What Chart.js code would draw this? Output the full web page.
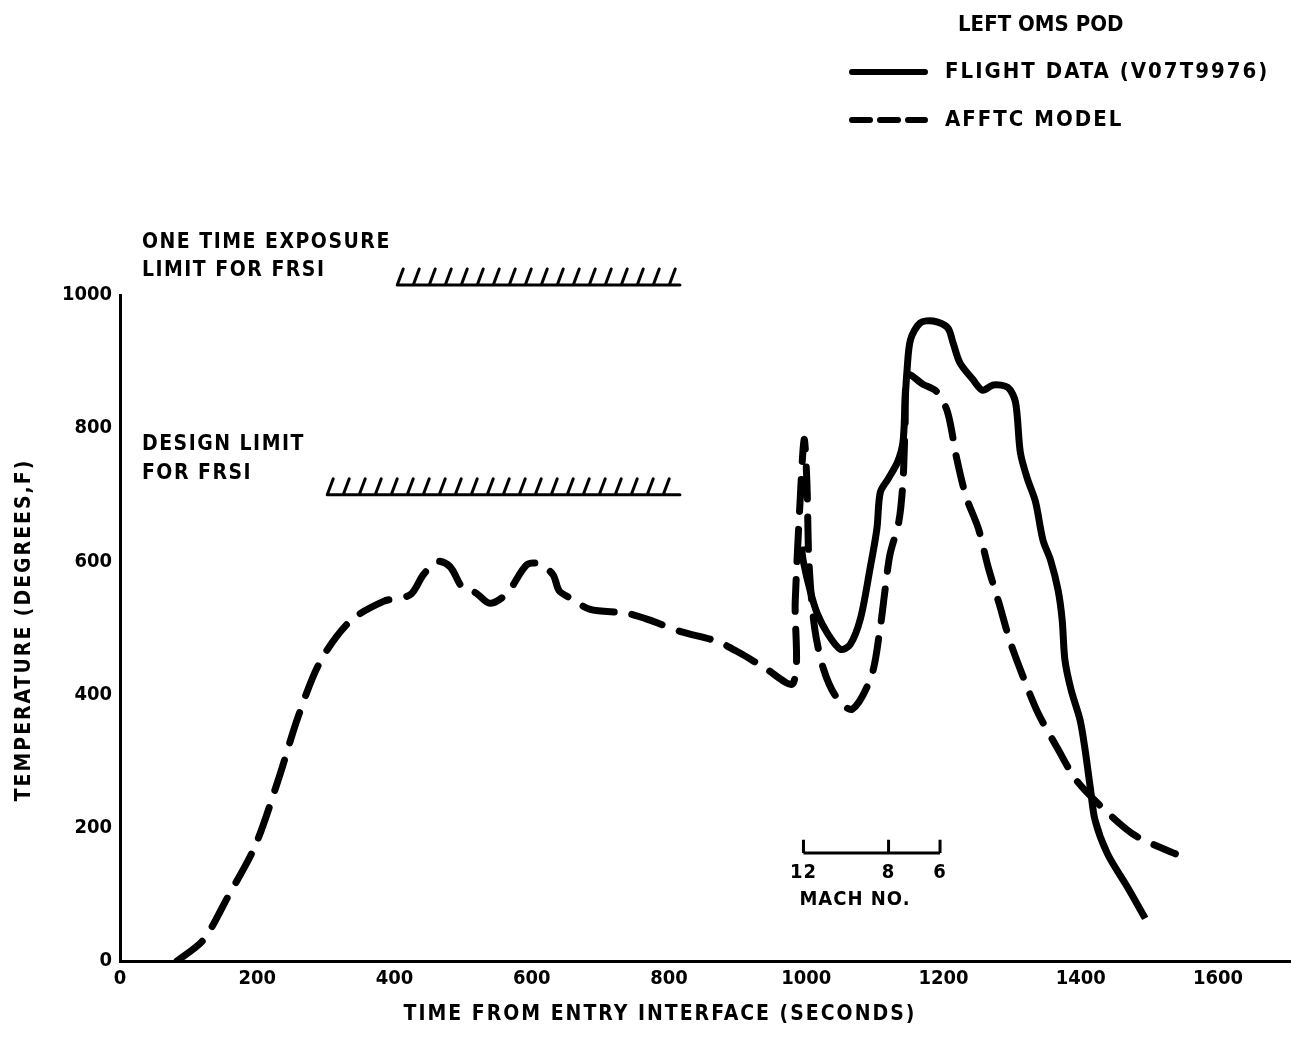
<!DOCTYPE html>
<html>
<head>
<meta charset="utf-8">
<script src="https://cdn.jsdelivr.net/npm/chart.js@4.4.1/dist/chart.umd.min.js"></script>
<style>
  html, body { margin: 0; padding: 0; background: #fff; }
  canvas { display: block; }
</style>
</head>
<body>
<canvas id="tempChart" width="1291" height="1050"></canvas>
<script>
// Flight data, left OMS pod (solid line)
const flightTime = [993, 996, 1006, 1016, 1031, 1050, 1064, 1079, 1093, 1103, 1108, 1120, 1133, 1141, 1144, 1147, 1152, 1166, 1185, 1206, 1214, 1224, 1243, 1257, 1273, 1294, 1305, 1312, 1322, 1334, 1345, 1356, 1367, 1373, 1377, 1386, 1399, 1406, 1414, 1421, 1439, 1468, 1494];
const flightTemp = [622, 599, 555, 522, 492, 468, 475, 514, 589, 649, 704, 725, 749, 779, 839, 888, 933, 958, 961, 951, 928, 898, 873, 857, 865, 861, 839, 764, 725, 690, 632, 602, 557, 512, 452, 407, 362, 320, 260, 211, 161, 111, 64];

// AFFTC model (dashed line)
const modelTime = [83, 121, 157, 197, 230, 260, 292, 335, 384, 423, 442, 462, 481, 500, 518, 539, 564, 593, 612, 631, 640, 656, 685, 739, 777, 816, 870, 904, 937, 981, 984, 991, 997, 1001, 1004, 1012, 1025, 1044, 1067, 1095, 1108, 1115, 1122, 1135, 1141, 1144, 1148, 1170, 1190, 1206, 1219, 1233, 1251, 1265, 1281, 1297, 1316, 1338, 1367, 1394, 1439, 1480, 1538];
const modelTemp = [0, 31, 96, 173, 270, 368, 450, 510, 540, 550, 580, 600, 592, 559, 553, 537, 552, 595, 596, 580, 556, 545, 528, 522, 510, 495, 480, 462, 442, 417, 540, 689, 783, 719, 599, 502, 439, 396, 378, 428, 502, 558, 610, 660, 720, 800, 880, 866, 855, 824, 756, 697, 649, 592, 537, 480, 427, 372, 318, 271, 223, 188, 161];

const xTicks = [0, 200, 400, 600, 800, 1000, 1200, 1400, 1600];
const yTicks = [0, 200, 400, 600, 800, 1000];

// FRSI temperature limits
const limitNames = [['ONE TIME EXPOSURE', 'LIMIT FOR FRSI'], ['DESIGN LIMIT', 'FOR FRSI']];
const limitTemps = [1015, 700];
const limitFrom = [404, 302];
const limitTo = [816, 816];

// Mach number scale under the curves
const machNumbers = [12, 8, 6];
const machTimes = [996, 1120, 1195];

const FONT = "'DejaVu Sans Condensed', 'Liberation Sans Narrow', 'DejaVu Sans', sans-serif";
Chart.defaults.font.family = FONT;
Chart.defaults.font.weight = 'bold';
Chart.defaults.color = '#000';

const toPoints = (xs, ys) => xs.map((x, i) => ({ x: x, y: ys[i] }));

// draws legend, limit hatches, mach scale and axis titles
const annotations = {
  id: 'annotations',
  afterDraw(chart) {
    const ctx = chart.ctx;
    const xs = chart.scales.x;
    const ys = chart.scales.y;
    ctx.save();
    ctx.fillStyle = '#000';
    ctx.strokeStyle = '#000';
    ctx.textBaseline = 'middle';
    ctx.textAlign = 'left';

    // legend
    ctx.font = 'bold 22px ' + FONT;
    ctx.letterSpacing = '0px';
    ctx.fillText('LEFT OMS POD', 958, 25);
    ctx.letterSpacing = '2px';
    const legendY = [72, 120];
    chart.data.datasets.forEach((ds, i) => {
      ctx.lineWidth = 6;
      ctx.lineCap = 'round';
      ctx.setLineDash(ds.borderDash && ds.borderDash.length ? [18, 10] : []);
      ctx.beginPath();
      ctx.moveTo(852, legendY[i]);
      ctx.lineTo(925, legendY[i]);
      ctx.stroke();
      ctx.setLineDash([]);
      ctx.fillText(ds.label, 945, legendY[i]);
    });

    // limits with hatching
    limitTemps.forEach((t, i) => {
      const x1 = xs.getPixelForValue(limitFrom[i]);
      const x2 = xs.getPixelForValue(limitTo[i]);
      const y = ys.getPixelForValue(t);
      ctx.lineWidth = 3;
      ctx.lineCap = 'round';
      ctx.beginPath();
      ctx.moveTo(x1, y);
      ctx.lineTo(x2, y);
      for (let x = x1; x <= x2 - 4; x += 16) {
        ctx.moveTo(x, y);
        ctx.lineTo(x + 6, y - 16);
      }
      ctx.stroke();
      const lx = xs.getPixelForValue(32);
      ctx.font = 'bold 21px ' + FONT;
      ctx.letterSpacing = '1.5px';
      const offs = i === 0 ? [-42, -14] : [-50, -21];
      limitNames[i].forEach((s, j) => ctx.fillText(s, lx, y + offs[j]));
    });

    // mach number scale
    const my = ys.getPixelForValue(162);
    const mTop = ys.getPixelForValue(182);
    ctx.lineWidth = 3;
    ctx.lineCap = 'butt';
    ctx.beginPath();
    ctx.moveTo(xs.getPixelForValue(machTimes[0]), my);
    ctx.lineTo(xs.getPixelForValue(machTimes[machTimes.length - 1]), my);
    machTimes.forEach(t => {
      const px = xs.getPixelForValue(t);
      ctx.moveTo(px, my);
      ctx.lineTo(px, mTop);
    });
    ctx.stroke();
    ctx.font = 'bold 20px ' + FONT;
    ctx.letterSpacing = '1px';
    ctx.textAlign = 'center';
    machNumbers.forEach((m, i) => ctx.fillText(String(m), xs.getPixelForValue(machTimes[i]), my + 20));
    ctx.fillText('MACH NO.', xs.getPixelForValue(1071), my + 47);

    // axis titles
    ctx.font = 'bold 21px ' + FONT;
    ctx.letterSpacing = '2px';
    ctx.fillText('TIME FROM ENTRY INTERFACE (SECONDS)', 660, 1015);
    ctx.translate(25, 630);
    ctx.rotate(-Math.PI / 2);
    ctx.fillText('TEMPERATURE (DEGREES,F)', 0, 0);
    ctx.restore();
  }
};

new Chart(document.getElementById('tempChart').getContext('2d'), {
  type: 'line',
  data: {
    datasets: [
      {
        label: 'FLIGHT DATA (V07T9976)',
        data: toPoints(flightTime, flightTemp),
        borderColor: '#000',
        borderWidth: 7,
        borderDash: [],
        pointRadius: 0,
        tension: 0.3,
        fill: false
      },
      {
        label: 'AFFTC MODEL',
        data: toPoints(modelTime, modelTemp),
        borderColor: '#000',
        borderWidth: 7,
        borderDash: [32, 18],
        borderCapStyle: 'round',
        pointRadius: 0,
        tension: 0.3,
        fill: false
      }
    ]
  },
  options: {
    responsive: false,
    animation: false,
    devicePixelRatio: 1,
    layout: { padding: { top: 295, right: 1, left: 0, bottom: 0 } },
    plugins: { legend: { display: false }, tooltip: { enabled: false } },
    scales: {
      x: {
        type: 'linear',
        min: 0,
        max: 1705,
        afterFit: s => { s.height = 89; },
        afterBuildTicks: s => { s.ticks = xTicks.map(v => ({ value: v })); },
        grid: { display: false, drawTicks: false },
        border: { display: true, color: '#000', width: 3 },
        ticks: { padding: 6, font: { size: 20, weight: 'bold' }, color: '#000', maxRotation: 0, callback: v => String(v) }
      },
      y: {
        type: 'linear',
        min: 0,
        max: 1000,
        afterFit: s => { s.width = 120; },
        afterBuildTicks: s => { s.ticks = yTicks.map(v => ({ value: v })); },
        grid: { display: false, drawTicks: false },
        border: { display: true, color: '#000', width: 3 },
        ticks: { padding: 8, font: { size: 20, weight: 'bold' }, color: '#000', callback: v => String(v) }
      }
    }
  },
  plugins: [annotations]
});
</script>
</body>
</html>
